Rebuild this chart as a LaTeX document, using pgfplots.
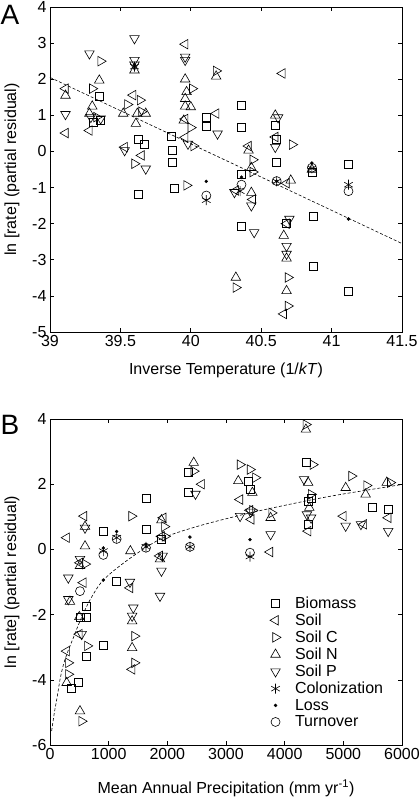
\documentclass[border=0pt]{standalone}
\usepackage{fontspec}
\setmainfont{Liberation Sans}
\usepackage{pgfplots}
\pgfplotsset{compat=1.18}
\begin{document}
\begin{tikzpicture}
\pgfplotsset{
 common/.style={scale only axis, width=352pt, tick align=inside, major tick length=4pt,
   axis line style={black, line width=0.7pt}, every tick/.style={black, line width=0.6pt},
   tick label style={font=\fontsize{16}{19}\selectfont},
   label style={font=\fontsize{16}{19}\selectfont},
   /pgf/number format/assume math mode=true, /pgf/number format/1000 sep={},
   scaled ticks=false},
 bm/.style={only marks, mark=square, mark size=4pt, black, line width=0.6pt},
 sl/.style={only marks, mark=triangle, mark size=5.5pt, black, line width=0.6pt, mark options={rotate=90}},
 sc/.style={only marks, mark=triangle, mark size=5.5pt, black, line width=0.6pt, mark options={rotate=-90}},
 sn/.style={only marks, mark=triangle, mark size=5.5pt, black, line width=0.6pt},
 sp/.style={only marks, mark=triangle, mark size=5.5pt, black, line width=0.6pt, mark options={rotate=180}},
 co/.style={only marks, mark=asterisk, mark size=5pt, black, line width=0.6pt},
 lo/.style={only marks, mark=*, mark size=1.5pt, black},
 tu/.style={only marks, mark=o, mark size=4.5pt, black, line width=0.6pt},
}
% ---------------- Panel A
\begin{axis}[common, height=325pt, at={(50pt,-332pt)}, anchor=south west,
  xmin=39, xmax=41.5, ymin=-5, ymax=4,
  xtick={39,39.5,40,40.5,41,41.5}, ytick={-5,-4,-3,-2,-1,0,1,2,3,4},
  xlabel={Inverse Temperature (1/\textit{kT})},
  xlabel style={at={(axis description cs:0.5,-0.118)}, anchor=center},
  ylabel={ln [rate] (partial residual)},
  ylabel style={at={(axis description cs:-0.108,0.5)}, anchor=center}]
\addplot[black, line width=0.6pt, dash pattern=on 3pt off 2pt] coordinates {(39,2.05) (41.5,-2.55)};
\addplot[bm] coordinates {(39.35,1.53) (39.31,0.80) (39.36,0.85) (39.63,0.35) (39.67,0.19) (39.63,-1.20)
 (39.86,0.42) (39.87,0.03) (39.87,-0.30) (39.88,-1.02) (40.11,0.94) (40.11,0.69) (40.36,1.28) (40.36,0.68)
 (40.36,-0.64) (40.60,0.72) (40.61,0.35) (40.61,-0.30) (40.86,-0.57) (40.87,-1.80) (40.87,-3.17)
 (41.12,-0.36) (41.12,-3.88) (40.36,-2.08) (40.68,-2.00)};
\addplot[sl] coordinates {(39.11,0.51) (39.11,1.74) (39.28,0.58) (39.59,1.56) (39.53,0.12) (39.65,-0.11)
 (39.96,2.97) (39.96,0.90) (39.96,0.39) (40.18,1.05) (40.41,0.15) (40.65,2.16) (40.60,0.40)
 (40.32,-1.08) (40.44,-1.33) (40.68,-2.00) (40.66,-4.50) (40.68,-0.88)};
\addplot[sc] coordinates {(39.36,2.50) (39.30,1.74) (39.33,0.95) (39.55,1.30) (39.64,1.42) (39.65,1.10)
 (39.60,-0.34) (40.01,1.74) (40.00,0.66) (40.02,0.15) (39.97,-0.94) (40.18,2.23) (40.44,-0.23)
 (40.44,-0.57) (40.72,0.19) (40.32,-3.77) (40.69,-3.49) (40.69,-4.28)};
\addplot[sn] coordinates {(39.11,1.55) (39.35,1.97) (39.30,1.25) (39.28,1.05) (39.60,2.25) (39.52,1.05)
 (39.62,1.05) (39.68,1.05) (39.61,0.77) (39.96,2.00) (39.97,1.65) (39.96,1.46) (39.96,1.25) (40.00,1.23)
 (39.95,0.86) (40.18,2.08) (40.41,0.03) (40.43,-0.45) (40.43,-1.14) (40.60,1.00) (40.71,-0.80)
 (40.32,-3.49) (40.66,-2.33) (40.68,-2.96) (40.68,-3.86) (40.86,-0.50)};
\addplot[sp] coordinates {(39.11,1.03) (39.28,2.71) (39.29,0.95) (39.36,0.91) (39.60,3.13) (39.60,2.53)
 (39.60,2.40) (39.53,0.03) (39.68,-0.48) (39.96,2.62) (39.96,2.53) (39.98,0.21) (40.19,0.49)
 (40.62,0.94) (40.60,0.12) (40.31,-1.13) (40.43,-1.50) (40.45,-2.24) (40.70,-1.87) (40.68,-2.62) (40.68,-2.84)};
\addplot[co] coordinates {(39.60,2.35) (40.11,-1.35) (40.35,-1.10) (40.61,-0.83) (40.86,-0.47) (41.12,-0.92)};
\addplot[lo] coordinates {(40.11,-0.83) (40.36,-0.71) (40.61,-0.82) (40.86,-0.32) (41.12,-1.87) (39.60,2.40)};
\addplot[tu] coordinates {(40.11,-1.22) (40.36,-0.92) (40.61,-0.82) (40.86,-0.45) (41.12,-1.10)};
\end{axis}
% ---------------- Panel B
\begin{axis}[common, height=326pt, at={(50pt,-745pt)}, anchor=south west,
  xmin=0, xmax=6000, ymin=-6, ymax=4,
  xtick={0,1000,2000,3000,4000,5000,6000}, ytick={-6,-4,-2,0,2,4},
  xlabel={Mean Annual Precipitation (mm yr\textsuperscript{-1})},
  xlabel style={at={(axis description cs:0.5,-0.132)}, anchor=center},
  ylabel={ln [rate] (partial residual)},
  ylabel style={at={(axis description cs:-0.108,0.5)}, anchor=center},
  legend style={draw=none, fill=none, at={(axis description cs:0.616,0.468)}, anchor=north west,
    font=\fontsize{16}{17}\selectfont, row sep=0pt,
    /tikz/every odd column/.append style={column sep=12pt}},
  legend cell align=left]
\addplot[bm] coordinates {(909,0.56) (1636,1.56) (1636,0.63) (1136,-0.97) (1903,0.31) (2357,2.35) (2357,1.74)
 (3380,2.10) (3409,1.84) (4362,2.66) (4450,1.58) (4400,1.48) (4400,0.77) (5498,1.28) (5765,1.23)
 (625,-1.74) (523,-2.07) (625,-2.07) (909,-2.94) (614,-3.27) (483,-4.09) (369,-4.27)};
\addlegendentry{Biomass}
\addplot[sl] coordinates {(284,0.36) (580,1.02) (511,-0.41) (568,-1.02) (1363,-1.18) (1931,0.97) (1900,0.40)
 (1870,-0.20) (2585,2.00) (3238,1.53) (3409,1.20) (3430,0.92) (3750,-0.08) (4400,0.56) (5000,1.02)
 (5350,0.77) (5765,0.97) (284,-3.12) (500,-2.60) (1400,-3.68)};
\addlegendentry{Soil}
\addplot[sc] coordinates {(1390,1.02) (1960,0.40) (1950,0.70) (2450,2.40) (3238,2.60) (3409,2.45) (3500,2.20)
 (3450,1.20) (3778,1.12) (4362,3.83) (4480,2.60) (4450,1.69) (5140,2.25) (5396,1.96) (5800,2.05)
 (540,-5.27) (312,-3.48) (312,-3.83) (636,-2.96) (1440,-2.66) (1440,-3.48) (600,-0.45)};
\addlegendentry{Soil C}
\addplot[sn] coordinates {(597,0.10) (597,0.70) (511,-0.50) (1370,-0.05) (1875,-0.30) (1900,0.90) (2450,2.66)
 (3210,2.10) (3450,1.74) (3760,0.97) (4362,3.68) (4400,2.05) (4420,1.28) (5040,1.89) (5380,1.69)
 (5740,2.05) (284,-4.09) (511,-4.96) (500,-2.07) (1400,-2.20) (1400,-3.02) (340,-1.60)};
\addlegendentry{Soil N}
\addplot[sp] coordinates {(312,-0.87) (312,-1.53) (597,0.66) (511,-0.30) (1363,-1.00) (1920,-0.20) (1900,-0.66)
 (1875,-1.43) (2480,1.70) (3240,1.02) (3420,1.15) (3760,0.46) (4330,2.15) (4380,1.07) (4450,0.97)
 (5040,0.72) (5300,0.77) (5765,0.56) (1420,-1.79) (1400,-2.04) (540,-2.60)};
\addlegendentry{Soil P}
\addplot[co] coordinates {(909,-0.05) (1136,0.36) (1636,0.08) (2386,0.08) (3409,-0.22)};
\addlegendentry{Colonization}
\addplot[lo] coordinates {(909,0.04) (1136,0.55) (1636,0.15) (2386,0.38) (3409,0.30) (909,-0.94)};
\addlegendentry{Loss}
\addplot[tu] coordinates {(909,-0.17) (1136,0.32) (1636,0.05) (2386,0.08) (3409,-0.10) (511,-1.28)};
\addlegendentry{Turnover}
\addplot[black, line width=0.6pt, dash pattern=on 3pt off 2pt, smooth, forget plot] coordinates {(28,-5.57) (74,-5.01) (125,-4.50)
 (170,-4.00) (227,-3.55) (300,-3.15) (400,-2.70) (511,-2.20) (682,-1.55) (909,-0.94) (1335,-0.31)
 (1875,0.31) (2500,0.70) (3409,1.12) (4400,1.50) (5000,1.70) (6000,1.99)};
\end{axis}
\node[font=\fontsize{28}{30}\selectfont] at (10pt,-15pt) {A};
\node[font=\fontsize{28}{30}\selectfont] at (10pt,-425pt) {B};
\pgfresetboundingbox
\path (0,0) rectangle (420pt,-801pt);
\end{tikzpicture}
\end{document}
